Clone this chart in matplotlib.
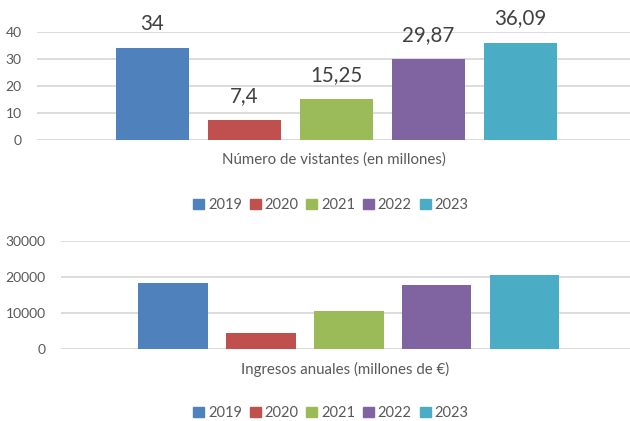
import matplotlib.pyplot as plt
import numpy as np

plt.rcParams['font.family'] = ['Lato', 'DejaVu Sans']

years = ['2019', '2020', '2021', '2022', '2023']
colors = ['#4F81BD', '#C0504D', '#9BBB59', '#8064A2', '#4BACC6']

visitantes = [34, 7.4, 15.25, 29.87, 36.09]
visitantes_labels = ['34', '7,4', '15,25', '29,87', '36,09']
ingresos = [18250, 4350, 10450, 17700, 20450]

grid_c = '#d9d9d9'
text_c = '#595959'


def style(ax, ylim, yticks, xlim):
    ax.set_ylim(*ylim)
    ax.set_yticks(yticks)
    ax.set_xlim(*xlim)
    ax.set_xticks([])
    for s in ax.spines.values():
        s.set_visible(False)
    ax.yaxis.grid(True, color=grid_c, linewidth=1.3)
    ax.set_axisbelow(True)
    ax.tick_params(axis='y', length=0, pad=11, labelsize=10, labelcolor=text_c)


fig = plt.figure(figsize=(6.3, 4.21), dpi=100)

# top chart
ax1 = fig.add_axes([37 / 630, 0.6675, 593 / 630, 0.2565])
x = np.arange(len(years)) - 2
ax1.bar(x, visitantes, width=0.79, color=colors, zorder=2)
style(ax1, (0, 40), [0, 10, 20, 30, 40], (-3.255, 3.19))
for xi, v, lab in zip(x, visitantes, visitantes_labels):
    ax1.annotate(lab, (xi, v), xytext=(0, 13), textcoords='offset points',
                 ha='center', va='baseline', fontsize=14.8, color='#404040',
                 annotation_clip=False)
ax1.text(0.5, -0.18, 'Número de vistantes (en millones)', transform=ax1.transAxes,
         ha='center', va='center', fontsize=10.8, color=text_c)

# bottom chart
ax2 = fig.add_axes([61 / 630, 0.1717, 569 / 630, 0.2565])
ax2.bar(x, ingresos, width=0.795, color=colors, zorder=2)
style(ax2, (0, 30000), [0, 10000, 20000, 30000], (-3.27, 3.2))
ax2.text(0.5, -0.19, 'Ingresos anuales (millones de €)', transform=ax2.transAxes,
         ha='center', va='center', fontsize=10.8, color=text_c)

handles = [plt.Rectangle((0, 0), 1, 1, color=c) for c in colors]
for y in [0.513, 0.019]:
    fig.legend(handles, years, loc='center', bbox_to_anchor=(0.525, y), ncol=5,
               frameon=False, fontsize=10.5, handlelength=0.75, handleheight=0.75,
               handletextpad=0.25, columnspacing=0.55, labelcolor=text_c,
               borderpad=0)

fig.savefig('out.png', dpi=100)
